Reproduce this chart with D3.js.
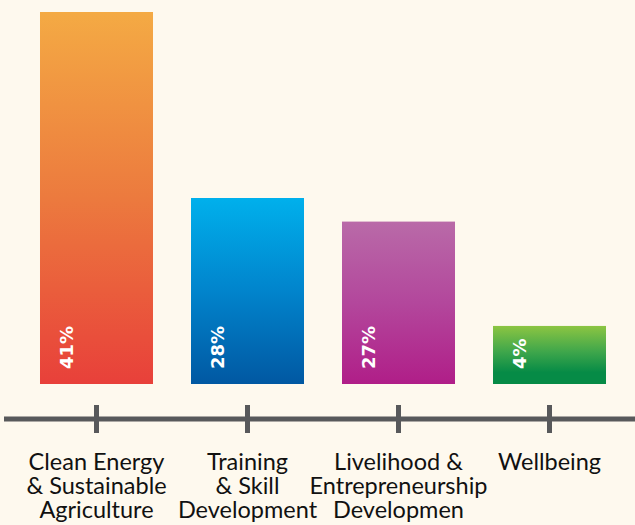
<!DOCTYPE html>
<html>
<head>
<meta charset="utf-8">
<script src="https://cdn.jsdelivr.net/npm/d3@7"></script>
<style>
  html, body { margin: 0; padding: 0; background: #fef9ee; }
  svg { display: block; }
</style>
</head>
<body>
<svg id="chart" width="635" height="525"></svg>
<script>
// Data
const categories = [
  ["Clean Energy", "& Sustainable", "Agriculture"],
  ["Training", "& Skill", "Development"],
  ["Livelihood &", "Entrepreneurship", "Developmen"],
  ["Wellbeing"]
];
const keys = ["clean", "training", "livelihood", "wellbeing"];
const barValues = [41, 20.5, 17.9, 6.4];   // drawn bar heights as they appear in the picture
const percentLabels = ["41%", "28%", "27%", "4%"];
const gradients = [
  ["#f4aa44", "#ec7a3e", "#e8403a"],
  ["#00b0ec", "#0184cc", "#0158a2"],
  ["#b96aa8", "#b3479c", "#b01e88"],
  ["#8cc542", "#3ea64b", "#068b46"]
];

const svg = d3.select("#chart");
const W = 635, H = 525;
const baseY = 384, topY = 12;

const x = d3.scaleBand()
  .domain(keys)
  .range([21, 625])
  .paddingInner(0.2517)
  .paddingOuter(0.1258);

const y = d3.scaleLinear()
  .domain([0, 41])
  .range([baseY, topY]);

const defs = svg.append("defs");
keys.forEach((k, i) => {
  const g = defs.append("linearGradient")
    .attr("id", "grad-" + k)
    .attr("x1", 0).attr("y1", 0).attr("x2", 0).attr("y2", 1);
  const stops = i === 3 ? [0, 0.45, 0.8] : [0, 0.5, 1];
  gradients[i].forEach((c, j) => {
    g.append("stop").attr("offset", stops[j]).attr("stop-color", c);
  });
  if (i === 3) g.append("stop").attr("offset", 1).attr("stop-color", gradients[i][2]);
});

// Bars
svg.append("g").selectAll("rect")
  .data(keys)
  .join("rect")
  .attr("x", d => x(d))
  .attr("width", x.bandwidth())
  .attr("y", (d, i) => y(barValues[i]))
  .attr("height", (d, i) => y(0) - y(barValues[i]))
  .attr("fill", d => "url(#grad-" + d + ")");

// Percent labels (rotated)
svg.append("g").selectAll("text")
  .data(keys)
  .join("text")
  .attr("transform", d => `translate(${x(d) + 33},${baseY - 15}) rotate(-90)`)
  .attr("text-anchor", "start")
  .attr("fill", "#ffffff")
  .attr("font-family", "DejaVu Sans, sans-serif")
  .attr("font-weight", "bold")
  .attr("font-size", 18)
  .text((d, i) => percentLabels[i]);

// Axis
const axisY = 419;
svg.append("line")
  .attr("x1", 4).attr("x2", W)
  .attr("y1", axisY).attr("y2", axisY)
  .attr("stroke", "#58595b")
  .attr("stroke-width", 5);

const axis = d3.axisBottom(x).tickSize(14).tickSizeOuter(0).tickFormat("");
const ax = svg.append("g")
  .attr("transform", `translate(0,${axisY})`)
  .call(axis);
ax.select(".domain").remove();
ax.selectAll(".tick line")
  .attr("y1", -14).attr("y2", 14)
  .attr("stroke", "#58595b")
  .attr("stroke-width", 5);

// Category labels
const lbl = svg.append("g").selectAll("text")
  .data(keys)
  .join("text")
  .attr("x", d => x(d) + x.bandwidth() / 2)
  .attr("y", 470)
  .attr("text-anchor", "middle")
  .attr("fill", "#111111")
  .attr("font-family", "Lato, sans-serif")
  .attr("font-size", 23.5);
lbl.each(function(d, i) {
  const t = d3.select(this);
  categories[i].forEach((line, j) => {
    t.append("tspan")
      .attr("x", x(d) + x.bandwidth() / 2)
      .attr("dy", j === 0 ? 0 : 24)
      .text(line);
  });
});
</script>
</body>
</html>
